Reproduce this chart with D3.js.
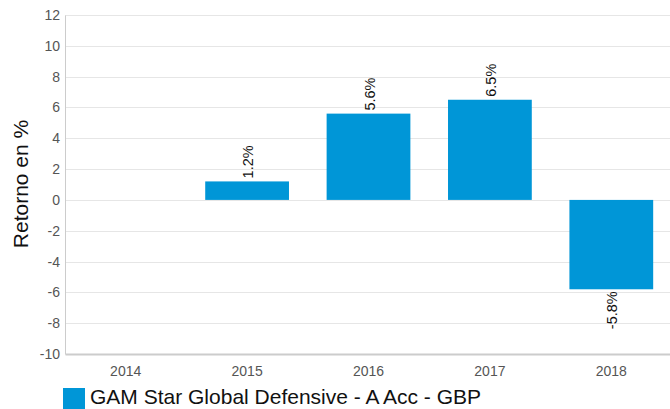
<!DOCTYPE html>
<html>
<head>
<meta charset="utf-8">
<script src="https://cdn.jsdelivr.net/npm/d3@7"></script>
<style>
  body { margin: 0; background: #fff; }
  text { font-family: "Liberation Sans", Arial, sans-serif; }
</style>
</head>
<body>
<svg id="chart" width="670" height="409"></svg>
<script>
const years = ['2014', '2015', '2016', '2017', '2018']
const returns = [null, 1.2, 5.6, 6.5, -5.8]
const yTicks = [-10, -8, -6, -4, -2, 0, 2, 4, 6, 8, 10, 12]
const seriesName = 'GAM Star Global Defensive - A Acc - GBP'

const svg = d3.select('#chart')
const margin = { top: 15, right: -2, bottom: 55, left: 65 }
const width = 670, height = 409
const color = '#0096d7'

const x = d3.scaleBand().domain(years)
    .range([margin.left, width - margin.right])
    .paddingInner(0.31).paddingOuter(0.155)
const y = d3.scaleLinear().domain([-10, 12])
    .range([height - margin.bottom, margin.top])

// grid
svg.append('g').selectAll('line').data(yTicks.filter(d => d !== -10))
    .enter().append('line')
    .attr('x1', margin.left).attr('x2', width)
    .attr('y1', d => Math.round(y(d)) + 0.5).attr('y2', d => Math.round(y(d)) + 0.5)
    .attr('stroke', '#e6e6e6')

// y axis
const yAxis = svg.append('g')
    .attr('transform', `translate(${margin.left},0)`)
    .call(d3.axisLeft(y).tickValues(yTicks).tickFormat(d => String(d)).tickSize(0).tickPadding(5))
yAxis.select('.domain').attr('stroke', '#cccccc')
yAxis.selectAll('text').attr('font-size', 14).attr('fill', '#555')

// x axis
const xAxis = svg.append('g')
    .attr('transform', `translate(0,${y(-10)})`)
    .call(d3.axisBottom(x).tickSize(0).tickPadding(12))
xAxis.select('.domain').attr('stroke', '#cccccc').attr('stroke-width', 2)
xAxis.selectAll('text').attr('font-size', 14).attr('fill', '#555')

// bars
const data = years.map((yr, i) => ({ yr, v: returns[i] })).filter(d => d.v !== null)

svg.append('g').selectAll('rect').data(data)
    .enter().append('rect')
    .attr('x', d => x(d.yr))
    .attr('width', x.bandwidth())
    .attr('y', d => y(Math.max(0, d.v)))
    .attr('height', d => Math.abs(y(d.v) - y(0)))
    .attr('fill', color)

svg.append('g').selectAll('text').data(data)
    .enter().append('text')
    .attr('transform', d => {
        const cx = x(d.yr) + x.bandwidth() / 2 + 6
        const cy = d.v >= 0 ? y(d.v) - 3 : y(d.v) + 2
        return `translate(${cx},${cy}) rotate(-90)`
    })
    .attr('text-anchor', d => d.v >= 0 ? 'start' : 'end')
    .attr('font-size', 14.5)
    .attr('fill', '#111')
    .text(d => d.v.toFixed(1) + '%')

// y title
svg.append('text')
    .attr('transform', `translate(28,184) rotate(-90)`)
    .attr('text-anchor', 'middle')
    .attr('font-size', 21)
    .attr('fill', '#111')
    .text('Retorno en %')

// legend
svg.append('rect')
    .attr('x', 63).attr('y', 388).attr('width', 22).attr('height', 21)
    .attr('fill', color)
svg.append('text')
    .attr('x', 90).attr('y', 404)
    .attr('font-size', 21)
    .attr('fill', '#111')
    .text(seriesName)
</script>
</body>
</html>
